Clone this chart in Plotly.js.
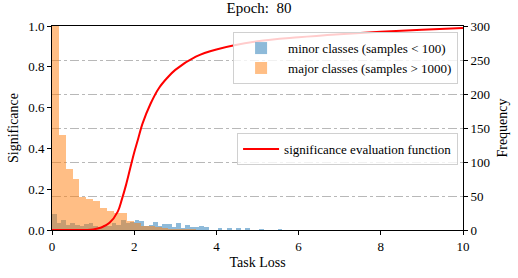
<!DOCTYPE html>
<html>
<head>
<meta charset="utf-8">
<script src="https://cdn.plot.ly/plotly-3.0.1.min.js"></script>
<style>html,body{margin:0;padding:0;background:#fff;} #chart{width:518px;height:278px;}</style>
</head>
<body>
<div id="chart"></div>
<script>
// Histogram of task loss, minor classes (bins of width 0.112 from 0)
const minorBinWidth = 0.112;
const minorCounts = [23,10,14,8,11,7,6,9,11,6, 5,8,6,10,8,14,11,12,15,13,
                     6,8,12,6,9,9,4,10,3,8, 4,4,6,5,0,0,3,0,3,0,
                     3,0,3,0,0,2,0,0,0,2];
// Histogram of task loss, major classes (bins of width 1/6 from 0)
const majorBinWidth = 1/6;
const majorCounts = [420,140,90,75,48,46,43,33,28,25,25,13,
                     10,6,6,4,3,2,2,1,1];
// Significance evaluation function
const curveX = [0,0.5,1.0,1.2,1.4,1.6,1.7,1.8,1.9,2.0,2.1,2.2,2.4,2.6,2.8,3.0,3.5,4.0,5.0,6.0,7.0,8.0,9.0,10.0];
const curveY = [0,0,0.003,0.012,0.035,0.09,0.15,0.22,0.30,0.38,0.45,0.52,0.62,0.695,0.745,0.785,0.85,0.885,0.925,0.945,0.96,0.972,0.982,0.99];

const centers = (counts, w) => counts.map((_, i) => (i + 0.5) * w);

const serif = 'Liberation Serif';

const traces = [
  {type:'bar', x: centers(minorCounts, minorBinWidth), y: minorCounts, width: minorBinWidth,
   marker:{color:'#1f77b4', line:{width:0}}, opacity:0.5,
   name:'minor classes (samples < 100)', xaxis:'x', yaxis:'y', legend:'legend'},
  {type:'bar', x: centers(majorCounts, majorBinWidth), y: majorCounts, width: majorBinWidth,
   marker:{color:'#ff7f0e', line:{width:0}}, opacity:0.5,
   name:'major classes (samples > 1000)', xaxis:'x', yaxis:'y', legend:'legend'},
  {type:'scatter', mode:'lines', x: curveX, y: curveY, line:{color:'#ff0000', width:2, shape:'spline'},
   name:'significance evaluation function', xaxis:'x', yaxis:'y2', legend:'legend2'}
];

const axisCommon = {showline:true, linecolor:'#000', linewidth:1, ticks:'outside', ticklen:4,
  tickcolor:'#000', tickfont:{family:serif, size:13, color:'#000'}, zeroline:false};

const layout = {
  width:518, height:278,
  margin:{l:52, r:55, t:26, b:48},
  paper_bgcolor:'#fff', plot_bgcolor:'#fff',
  font:{family:serif, color:'#000'},
  barmode:'overlay', bargap:0,
  title:{text:'Epoch:  80', font:{family:serif, size:15, color:'#000'}, x:0.5, xanchor:'center', y:0.99, yanchor:'top'},
  xaxis: Object.assign({}, axisCommon, {range:[0,10], dtick:2, tick0:0, showgrid:false, mirror:true,
    title:{text:'Task Loss', font:{family:serif, size:14}, standoff:4}}),
  yaxis: Object.assign({}, axisCommon, {range:[0,300], dtick:50, side:'right', showgrid:true,
    gridcolor:'#b8b8b8', griddash:'dashdot', gridwidth:1,
    title:{text:'Frequency', font:{family:serif, size:14}, standoff:8}}),
  yaxis2: Object.assign({}, axisCommon, {range:[0,1], dtick:0.2, tickformat:'.1f', side:'left', overlaying:'y',
    showgrid:false, title:{text:'Significance', font:{family:serif, size:14}, standoff:6}}),
  legend:{x:0.988, y:0.97, xanchor:'right', yanchor:'top', bgcolor:'rgba(255,255,255,0.8)',
    bordercolor:'#d0d0d0', borderwidth:1, font:{family:serif, size:13, color:'#000'}, tracegroupgap:0,
    itemwidth:44},
  legend2:{x:0.988, y:0.475, xanchor:'right', yanchor:'top', bgcolor:'rgba(255,255,255,0.8)',
    bordercolor:'#d0d0d0', borderwidth:1, font:{family:serif, size:13, color:'#000'}, itemwidth:36},
  showlegend:true
};

Plotly.newPlot('chart', traces, layout, {staticPlot:true, displayModeBar:false});
</script>
</body>
</html>
